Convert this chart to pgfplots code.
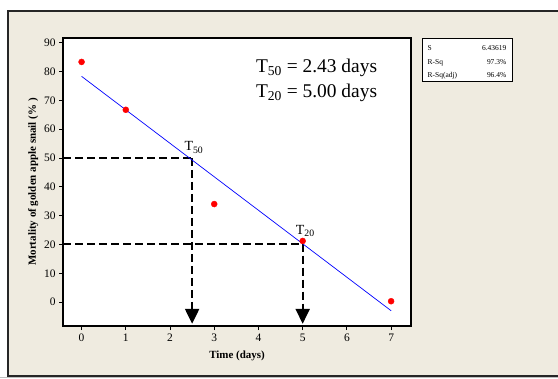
\documentclass[border=0pt]{standalone}
\usepackage{pgfplots}
\pgfplotsset{compat=1.18}
\usepackage{fontspec}
\setmainfont{Liberation Serif}
\usetikzlibrary{arrows.meta}
\definecolor{bgbeige}{RGB}{239,235,224}
\begin{document}
\begin{tikzpicture}[x=1bp,y=1bp]
\path[use as bounding box] (0,0) rectangle (558,378);
\fill[white] (0,0) rectangle (558,378);
\fill[black!25] (0,0) rectangle (558,1.5);
\fill[bgbeige] (8,2) rectangle (558,367);
\draw[line width=2.2bp, black!85] (562,367) -- (8,367) -- (8,2) -- (562,2);
\begin{axis}[at={(63bp,52bp)}, anchor=south west, width=348bp, height=288bp, scale only axis,
  xmin=-0.42, xmax=7.45, ymin=-8.3, ymax=91.6,
  axis background/.style={fill=white},
  xtick={0,...,7}, ytick={0,10,...,90},
  tick align=outside, tick pos=left, major tick length=4bp,
  axis line style={line width=1.1bp}, tick style={line width=0.8bp, black},
  ticklabel style={font=\fontsize{11.5}{13}\selectfont},
  /pgf/number format/assume math mode=true,
  xlabel={Time (days)}, ylabel={Mortality of golden apple snail (\% )},
  label style={font=\bfseries\fontsize{11}{13}\selectfont},
  xlabel style={yshift=-3bp}, ylabel style={yshift=-1bp},
  clip=false]
\addplot[black, line width=1.9bp, dash pattern=on 8bp off 4bp] coordinates {(-0.42,50) (2.5,50)};
\addplot[black, line width=1.9bp, dash pattern=on 8bp off 4bp] coordinates {(-0.42,20.3) (5,20.3)};
\addplot[black, line width=2.2bp, dash pattern=on 8bp off 4bp, -{Triangle[width=14bp,length=15bp,sep=0pt]}, shorten >=-1bp] coordinates {(2.5,50) (2.5,-7.2)};
\addplot[black, line width=2.2bp, dash pattern=on 8bp off 4bp, -{Triangle[width=14bp,length=15bp,sep=0pt]}, shorten >=-1bp] coordinates {(5,20.3) (5,-7.2)};
\addplot[blue, line width=0.7bp] coordinates {(0,78.3) (7,-3.0)};
\addplot[only marks, mark=*, mark size=3bp, red, mark options={draw=red, fill=red}] coordinates {
(0,83.3) (1,66.7) (3,34.0) (5,21.2) (7,0.3)};
\node[anchor=base west, font=\fontsize{19.5}{22}\selectfont, inner sep=0pt] at (axis cs:3.94,79.8) {T\textsubscript{50} = 2.43 days};
\node[anchor=base west, font=\fontsize{19.5}{22}\selectfont, inner sep=0pt] at (axis cs:3.94,71.0) {T\textsubscript{20} = 5.00 days};
\node[anchor=south, font=\fontsize{14}{16}\selectfont, inner sep=0pt] at (axis cs:2.54,51.6) {T\textsubscript{50}};
\node[anchor=south, font=\fontsize{14}{16}\selectfont, inner sep=0pt] at (axis cs:5.06,22.5) {T\textsubscript{20}};
\end{axis}
\draw[line width=0.8bp, fill=white] (422,297) rectangle (512,340);
\begin{scope}[every node/.style={font=\fontsize{7.5}{9}\selectfont, inner sep=0pt}]
\node[anchor=base west] at (427.5,327.5) {S};
\node[anchor=base east] at (506.5,327.5) {6.43619};
\node[anchor=base west] at (427.5,314) {R-Sq};
\node[anchor=base east] at (506.5,314) {97.3\%};
\node[anchor=base west] at (427.5,300.5) {R-Sq(adj)};
\node[anchor=base east] at (506.5,300.5) {96.4\%};
\end{scope}
\end{tikzpicture}
\end{document}
